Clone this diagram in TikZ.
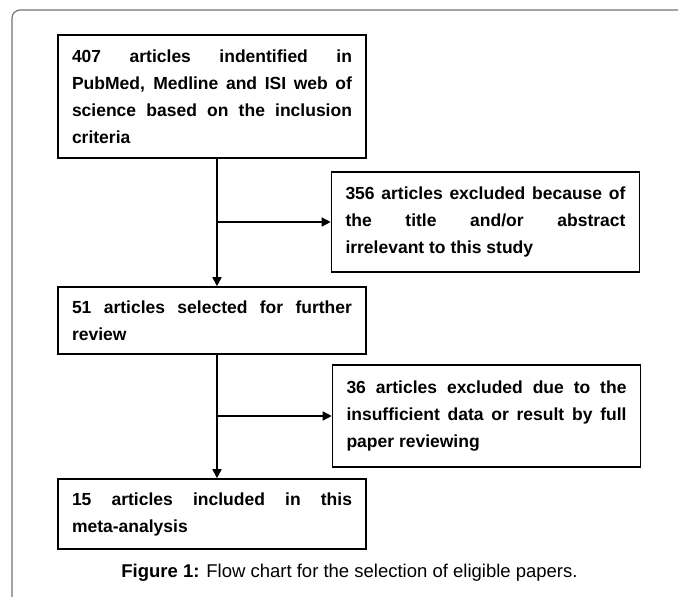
\documentclass[tikz,border=0pt]{standalone}
\usepackage{fontspec}
\setmainfont{Liberation Sans}
\usepackage{tikz}
\usetikzlibrary{arrows.meta}
\definecolor{myframe}{gray}{0.45}

\begin{document}
\begin{tikzpicture}[x=1pt,y=-1pt,
    box/.style={draw=black, line width=1.6pt, text width=280pt, inner xsep=14pt, inner ysep=0pt,
        align=justify, font=\bfseries\fontsize{17.5}{27}\selectfont},
    flow/.style={-{Triangle[length=9pt,width=9pt]}, line width=1.6pt}]
    % basics
    \useasboundingbox (0,0) rectangle (678,597);
    \draw [myframe, line width=1.2pt, rounded corners=8pt] (678,10) -| (12,597);
    
    % boxes
    \node[box, minimum height=123pt] (found) at (212,96.5)
        {407 articles indentified in\linebreak PubMed, Medline and ISI web of\linebreak science based on the inclusion\linebreak criteria};
    \node[box, minimum height=100pt] (excltitle) at (485.5,222)
        {356 articles excluded because of\linebreak the title and/or abstract\linebreak irrelevant to this study};
    \node[box, minimum height=67pt] (selected) at (212,320.5)
        {51 articles selected for further\linebreak review};
    \node[box, minimum height=102pt] (excldata) at (486.5,416)
        {36 articles excluded due to the\linebreak insufficient data or result by full\linebreak paper reviewing};
    \node[box, minimum height=70pt] (included) at (212,514)
        {15 articles included in this\linebreak meta-analysis};
    
    % arrows
    \coordinate (stem) at (217,0);
    \draw[flow] (found.south -| stem) -- (selected.north -| stem);
    \draw[flow] (stem |- excltitle.west) -- (excltitle.west);
    \draw[flow] (selected.south -| stem) -- (included.north -| stem);
    \draw[flow] (stem |- excldata.west) -- (excldata.west);
    
    % text
    \node (caption) at (349.5,573) {\fontsize{18.5}{22}\selectfont\textbf{Figure 1:} Flow chart for the selection of eligible papers.};
\end{tikzpicture}
\end{document}
